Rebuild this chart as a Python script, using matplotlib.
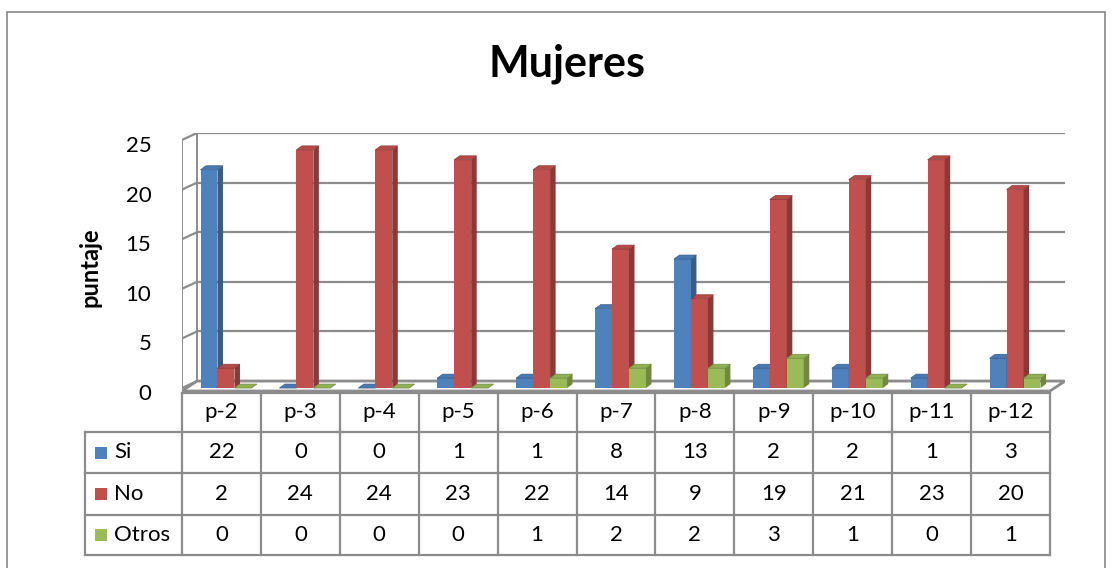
import matplotlib
matplotlib.use('Agg')
import matplotlib.pyplot as plt
from matplotlib.patches import Polygon, Rectangle
import matplotlib.transforms as mtransforms
import numpy as np

plt.rcParams['font.family'] = ['Lato', 'DejaVu Sans']

categories = ['p-2', 'p-3', 'p-4', 'p-5', 'p-6', 'p-7', 'p-8', 'p-9', 'p-10', 'p-11', 'p-12']
series_names = ['Si', 'No', 'Otros']
si = [22, 0, 0, 1, 1, 8, 13, 2, 2, 1, 3]
no = [2, 24, 24, 23, 22, 14, 9, 19, 21, 23, 20]
otros = [0, 0, 0, 0, 1, 2, 2, 3, 1, 0, 1]
yticks = [0, 5, 10, 15, 20, 25]

front_colors = ['#4F81BD', '#C0504D', '#9BBB59']
side_colors = ['#385D8A', '#8C3836', '#71893F']
top_colors = ['#4A79B2', '#B44B48', '#92B054']
grid_color = '#8c8c8c'

W, H = 1115, 568
fig = plt.figure(figsize=(W / 100, H / 100), dpi=100)


def fx(px):
    return px / W


def fy(py):
    return 1 - py / H


# axes: left 182px, right 1065px, bottom 393px, top 133px
ax = fig.add_axes([fx(182), fy(393), fx(1065) - fx(182), fy(133) - fy(393)])
n = len(categories)
depth_x, depth_y = 0.19, 0.7     # wall depth in data units
ax.set_xlim(-0.5, n - 0.5 + depth_x)
ax.set_ylim(-0.5, 25 + depth_y)
for s in ax.spines.values():
    s.set_visible(False)
ax.set_xticks([])
ax.set_yticks(yticks)
ax.set_yticklabels([str(v) for v in yticks], fontsize=16)
ax.tick_params(axis='y', length=0, pad=22)
down = mtransforms.ScaledTranslation(0, -0.04, fig.dpi_scale_trans)
for lab in ax.get_yticklabels():
    lab.set_transform(lab.get_transform() + down)

# walls and gridlines
x0, x1 = -0.5, n - 0.5
for v in yticks:
    ax.plot([x0 + depth_x, x1 + depth_x], [v + depth_y, v + depth_y],
            color=grid_color, lw=1.6, zorder=1)
    ax.plot([x0, x0 + depth_x], [v, v + depth_y], color=grid_color, lw=1.6, zorder=1)
ax.plot([x0, x0], [0, 25], color=grid_color, lw=1.4, zorder=1)
ax.plot([x0 + depth_x, x0 + depth_x], [depth_y, 25 + depth_y], color=grid_color, lw=1.4, zorder=1)
floor = Polygon([(x0, -0.3), (x1, -0.3), (x1 + depth_x, depth_y), (x0 + depth_x, depth_y)],
                closed=True, facecolor='white', edgecolor=grid_color, lw=2, zorder=1.5)
ax.add_patch(floor)

# 3D-looking columns
w = 0.215
bdx, bdy = 0.07, 0.4
shift = 0.057
idx = np.arange(n)
for k, vals in enumerate([si, no, otros]):
    lefts = idx + shift - 1.5 * w + k * w
    z = 3 + k
    ax.bar(lefts, vals, width=w, align='edge', color=front_colors[k], lw=0, zorder=z)
    for left, v in zip(lefts, vals):
        r = left + w
        ax.add_patch(Polygon([(r, 0), (r + bdx, bdy), (r + bdx, v + bdy), (r, v)],
                             closed=True, facecolor=side_colors[k], lw=0, zorder=z))
        ax.add_patch(Polygon([(left, v), (r, v), (r + bdx, v + bdy), (left + bdx, v + bdy)],
                             closed=True, facecolor=top_colors[k],
                             edgecolor=side_colors[k], lw=0.5, zorder=z))

# data table below the plot
tr = mtransforms.blended_transform_factory(ax.transData, fig.transFigure)
rows_y = [393, 432, 473, 515, 555]
leg_left = x0 - 97 / 78.9
line_kw = dict(color=grid_color, lw=1.6, transform=tr, clip_on=False)
ax.plot([x0, x1], [fy(rows_y[0])] * 2, **line_kw)
for py in rows_y[1:]:
    ax.plot([leg_left, x1], [fy(py)] * 2, **line_kw)
ax.plot([leg_left, leg_left], [fy(rows_y[1]), fy(rows_y[-1])], **line_kw)
for k in range(n + 1):
    ax.plot([x0 + k, x0 + k], [fy(rows_y[0]), fy(rows_y[-1])], **line_kw)

for i, cat in enumerate(categories):
    ax.text(i, fy((rows_y[0] + rows_y[1]) / 2), cat, transform=tr, ha='center',
            va='center', fontsize=16, clip_on=False)
for r, (name, vals) in enumerate(zip(series_names, [si, no, otros])):
    yc = (rows_y[r + 1] + rows_y[r + 2]) / 2
    for i, v in enumerate(vals):
        ax.text(i, fy(yc), str(v), transform=tr, ha='center', va='center',
                fontsize=16, clip_on=False)
    fig.patches.append(Rectangle((fx(95), fy(yc + 6)), fx(12), 12 / H,
                                 transform=fig.transFigure, facecolor=front_colors[r], lw=0))
    fig.text(fx(114), fy(yc), name, ha='left', va='center', fontsize=16)

# title, axis label, chart border
fig.text(fx(567), fy(77), 'Mujeres', ha='center', va='baseline', fontsize=31, fontweight='bold')
fig.text(fx(90), fy(267), 'puntaje', ha='center', va='center', rotation=90,
         fontsize=17, fontweight='bold')
fig.patches.append(Rectangle((fx(7), fy(575)), fx(1105) - fx(7), fy(12) - fy(575),
                             transform=fig.transFigure, fill=False, edgecolor='#878787', lw=1.2))

fig.savefig('out.png', dpi=100)
